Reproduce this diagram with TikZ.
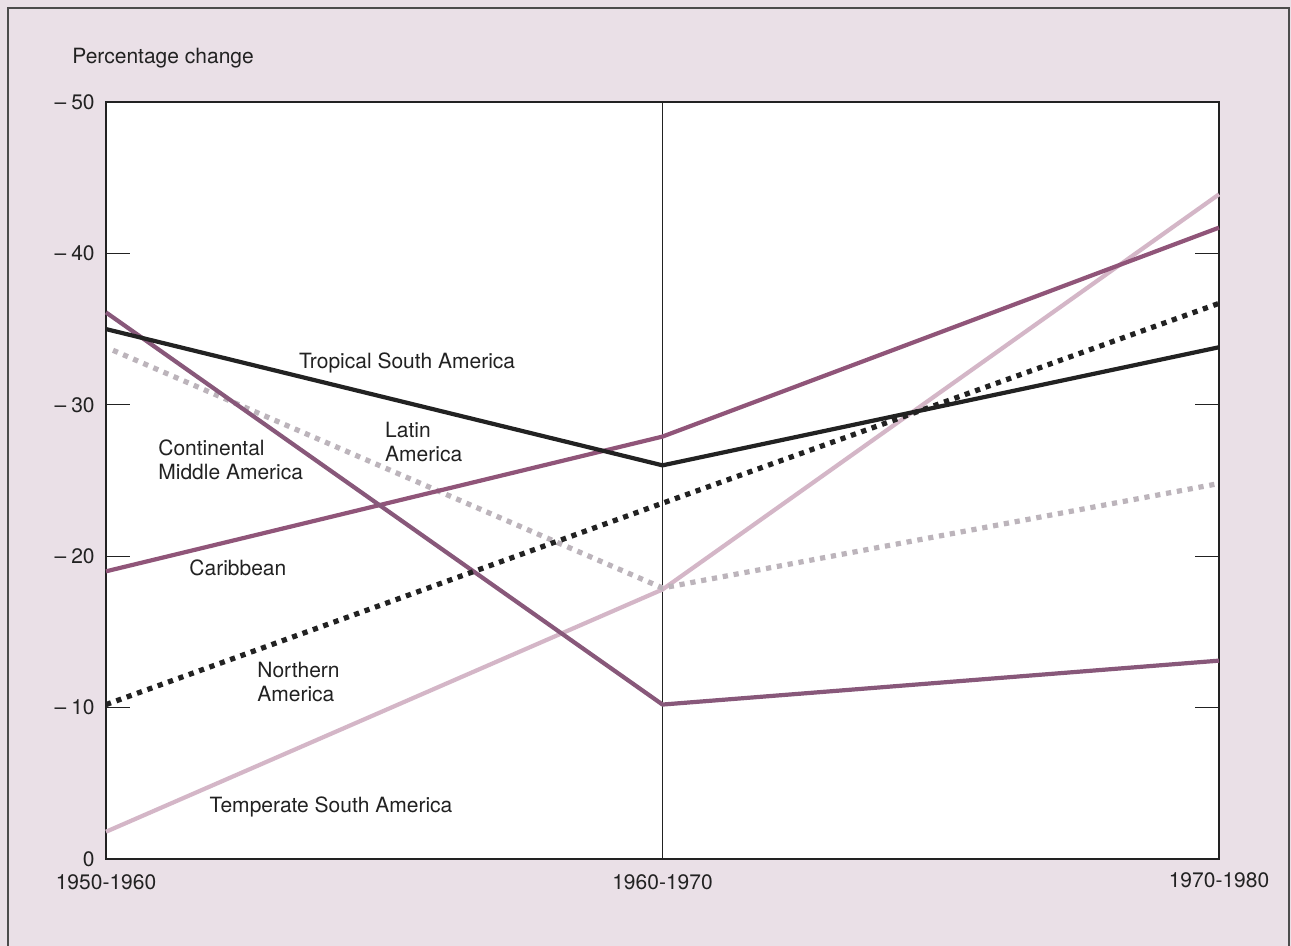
\documentclass[tikz,border=0pt]{standalone}
\usepackage{fontspec}
\setmainfont{TeX Gyre Heros}

\definecolor{paper}{HTML}{EAE0E7}
\definecolor{mauve}{HTML}{905579}
\definecolor{plum}{HTML}{88587A}
\definecolor{rose}{HTML}{D4B6C7}
\definecolor{ash}{HTML}{BCB4BB}
\definecolor{ink}{HTML}{222222}

\tikzset{
  series/.style={line width=2.1pt, line join=round},
  squares/.style={line width=2.6pt, dash pattern=on 2.6pt off 2.9pt},
  lab/.style={font=\fontsize{10.5}{12}\selectfont, text=ink, inner sep=0pt, align=left},
}

\begin{document}
\begin{tikzpicture}[x=278.25pt, y=7.57pt]
  \useasboundingbox (-0.1905,-5.746) rectangle (2.1294,56.737);
  \fill[paper] (-0.1905,-5.746) rectangle (2.1294,56.737);
  \draw[line width=1pt, black!70] (-0.1761,-6) -- (-0.1761,56.21) -- (2.1258,56.21) -- (2.1258,-6);

  % plot frame
  \fill[white] (0,0) rectangle (2,50);
  \draw[line width=0.8pt, ink] (0,0) rectangle (2,50);
  \draw[line width=0.6pt, ink] (1,0) -- (1,50);

  \foreach \v in {10,20,30,40} {
    \draw[line width=0.6pt, ink] (0,\v) -- ++(12pt,0);
    \draw[line width=0.6pt, ink] (2,\v) -- ++(-12pt,0);
  }
  \foreach \v in {10,20,...,50}
    \node[lab, anchor=east] (tick\v) at ([xshift=-5.5pt]0,\v) {--\kern2.5pt\v};
  \node[lab, anchor=east] (tick0) at ([xshift=-5.5pt]0,0) {0};

  \node[lab] (p50) at (0,-1.52) {1950-1960};
  \node[lab] (p60) at (1,-1.52) {1960-1970};
  \node[lab] (p70) at (2,-1.40) {1970-1980};
  \node[lab, anchor=west] (ylab) at (-0.0611,52.9) {Percentage change};

  % series
  \draw[series, rose]  (0,1.8) -- (1,17.8) -- (2,43.9);
  \draw[squares, ash]  (0.0126,33.6) -- (1,17.9) -- (2,24.8);
  \draw[series, mauve] (0,19) -- (1,27.9) -- (2,41.7);
  \draw[series, plum]  (0,36.1) -- (1,10.2) -- (2,13.1);
  \draw[series, ink]   (0,35) -- (1,26) -- (2,33.8);
  \draw[squares, ink]  (0,10.2) -- (1,23.5) -- (2,36.7);

  % labels
  \node[lab] (tropical) at (0.541,32.76) {Tropical South America};
  \node[lab, anchor=west] (continental) at (0.0934,26.35) {Continental\\Middle America};
  \node[lab, anchor=west] (latin) at (0.501,27.51) {Latin\\America};
  \node[lab] (caribbean) at (0.237,19.22) {Caribbean};
  \node[lab, anchor=west] (northern) at (0.2713,11.72) {Northern\\America};
  \node[lab] (temperate) at (0.4043,3.43) {Temperate South America};
\end{tikzpicture}
\end{document}
